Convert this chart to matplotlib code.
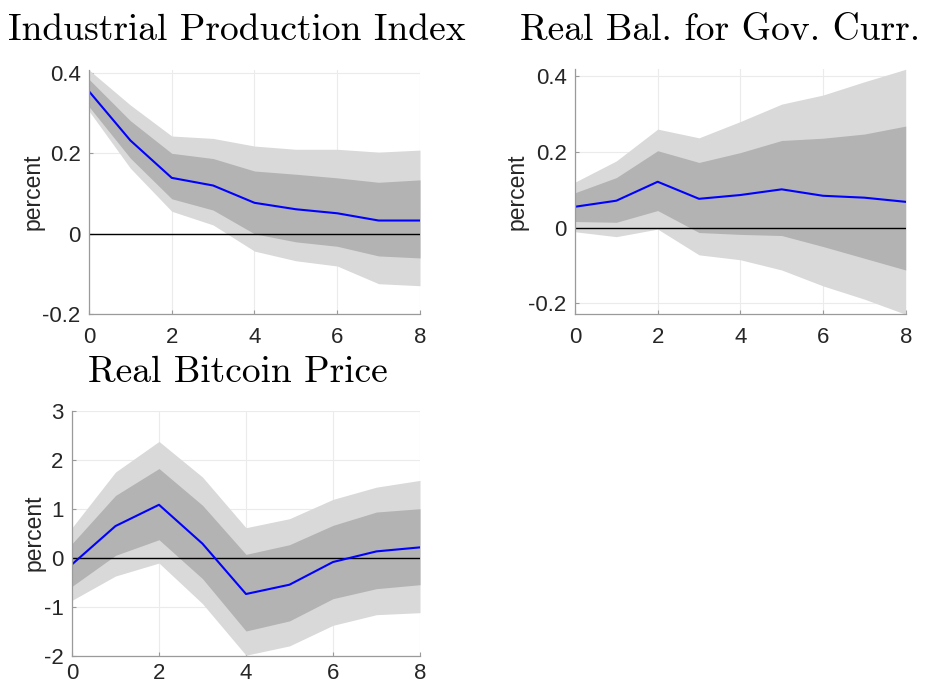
import matplotlib
matplotlib.use("Agg")
import matplotlib.pyplot as plt
import numpy as np

horizon = [0, 1, 2, 3, 4, 5, 6, 7, 8]

# Industrial Production Index
ip_median = [0.354, 0.232, 0.139, 0.120, 0.077, 0.061, 0.051, 0.033, 0.033]
ip_in_up = [0.384, 0.281, 0.200, 0.187, 0.156, 0.148, 0.139, 0.128, 0.134]
ip_in_lo = [0.316, 0.188, 0.087, 0.059, 0.000, -0.020, -0.031, -0.055, -0.060]
ip_out_up = [0.407, 0.320, 0.243, 0.237, 0.218, 0.210, 0.210, 0.203, 0.208]
ip_out_lo = [0.305, 0.163, 0.056, 0.022, -0.043, -0.067, -0.080, -0.124, -0.129]

# Real Bal. for Gov. Curr.
rb_median = [0.055, 0.071, 0.121, 0.076, 0.086, 0.101, 0.084, 0.079, 0.068]
rb_in_up = [0.092, 0.132, 0.203, 0.172, 0.198, 0.230, 0.236, 0.247, 0.268]
rb_in_lo = [0.016, 0.014, 0.045, -0.013, -0.018, -0.021, -0.050, -0.081, -0.112]
rb_out_up = [0.120, 0.176, 0.260, 0.237, 0.280, 0.326, 0.350, 0.385, 0.418]
rb_out_lo = [-0.011, -0.024, -0.004, -0.072, -0.085, -0.112, -0.154, -0.189, -0.229]

# Real Bitcoin Price
bp_median = [-0.136, 0.646, 1.080, 0.286, -0.741, -0.551, -0.088, 0.129, 0.211]
bp_in_up = [0.286, 1.270, 1.820, 1.070, 0.068, 0.265, 0.660, 0.932, 1.000]
bp_in_lo = [-0.585, 0.048, 0.367, -0.428, -1.496, -1.290, -0.836, -0.632, -0.551]
bp_out_up = [0.612, 1.748, 2.373, 1.646, 0.612, 0.796, 1.190, 1.440, 1.578]
bp_out_lo = [-0.870, -0.374, -0.109, -0.938, -1.990, -1.800, -1.380, -1.163, -1.122]

titles = ["Industrial Production Index", "Real Bal. for Gov. Curr.", "Real Bitcoin Price"]

W, H = 928, 684
fig = plt.figure(figsize=(W / 100, H / 100), dpi=100)

def fpos(l, r, t, b):
    return [l / W, 1 - b / H, (r - l) / W, (b - t) / H]

panels = [
    dict(pos=fpos(89, 420, 70, 314.3), data=(ip_median, ip_in_up, ip_in_lo, ip_out_up, ip_out_lo),
         ylim=(-0.2, 0.407), yticks=[-0.2, 0, 0.2, 0.4], yticklabels=["-0.2", "0", "0.2", "0.4"],
         title=titles[0], tx=237, ty=40, lx=33, xpad=9),
    dict(pos=fpos(575, 905.7, 69.3, 314.3), data=(rb_median, rb_in_up, rb_in_lo, rb_out_up, rb_out_lo),
         ylim=(-0.229, 0.418), yticks=[-0.2, 0, 0.2, 0.4], yticklabels=["-0.2", "0", "0.2", "0.4"],
         title=titles[1], tx=720, ty=40, lx=517, xpad=9),
    dict(pos=fpos(72, 420, 410.7, 655.7), data=(bp_median, bp_in_up, bp_in_lo, bp_out_up, bp_out_lo),
         ylim=(-2, 3), yticks=[-2, -1, 0, 1, 2, 3], yticklabels=["-2", "-1", "0", "1", "2", "3"],
         title=titles[2], tx=237.5, ty=381.7, lx=34, xpad=5),
]

tick_font = "Liberation Sans"
for p in panels:
    ax = fig.add_axes(p["pos"])
    med, iu, il, ou, ol = p["data"]
    ax.fill_between(horizon, ol, ou, color="#d9d9d9", linewidth=0, zorder=2)
    ax.fill_between(horizon, il, iu, color="#b3b3b3", linewidth=0, zorder=3)
    ax.axhline(0, color="black", linewidth=1.0, zorder=4)
    ax.plot(horizon, med, color="#0000ff", linewidth=1.5, zorder=5)
    ax.set_xlim(0, 8)
    ax.set_ylim(*p["ylim"])
    ax.set_xticks([0, 2, 4, 6, 8])
    ax.set_xticklabels(["0", "2", "4", "6", "8"], fontsize=16, family=tick_font, color="#262626")
    ax.set_yticks(p["yticks"])
    ax.set_yticklabels(p["yticklabels"], fontsize=16, family=tick_font, color="#262626")
    ax.grid(True, color="#ebebeb", linewidth=0.8, zorder=0)
    ax.set_axisbelow(True)
    for s in ["top", "right"]:
        ax.spines[s].set_visible(False)
    for s in ["left", "bottom"]:
        ax.spines[s].set_color("#9a9a9a")
        ax.spines[s].set_linewidth(0.9)
        ax.spines[s].set_zorder(6)
    ax.tick_params(direction="in", length=3, width=0.8, color="#9a9a9a")
    ax.tick_params(axis="x", pad=p["xpad"])
    ax.tick_params(axis="y", pad=6)
    fig.text(p["lx"] / W, p["pos"][1] + p["pos"][3] / 2, "percent", rotation=90,
             ha="center", va="center", fontsize=16.5, family=tick_font, color="#262626")
    fig.text(p["tx"] / W, 1 - p["ty"] / H, p["title"], ha="center", va="baseline",
             fontsize=27, family="cmr10", color="black")

fig.savefig("out.png", dpi=100)
